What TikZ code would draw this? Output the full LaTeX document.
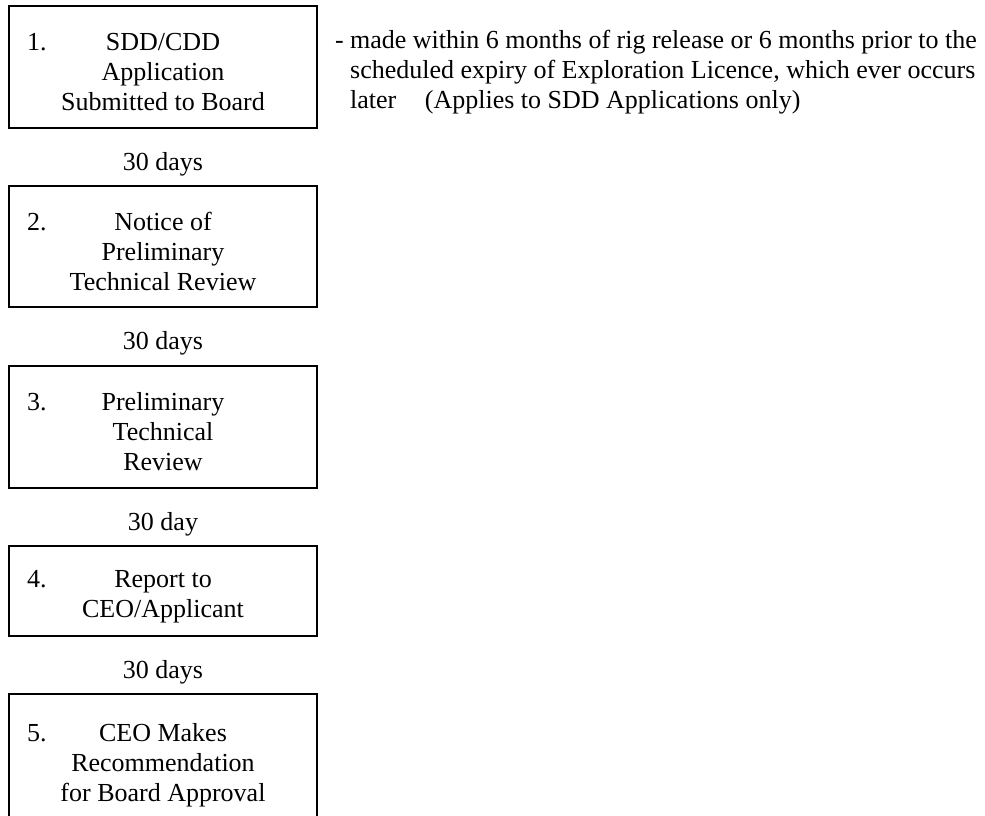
\documentclass[tikz,border=0pt]{standalone}
\usepackage{fontspec}
\setmainfont{Liberation Serif}
\usetikzlibrary{positioning}

\begin{document}
\begin{tikzpicture}[x=0.5pt,y=-0.5pt]
	\tikzstyle{stage} = [draw,line width=1.1pt,minimum width=154pt,text width=136pt,inner xsep=9pt,inner ysep=0pt,outer sep=0pt,align=flush center,font=\fontsize{13}{15}\selectfont]
	\tikzstyle{delay} = [inner sep=0pt,outer sep=0pt,font=\fontsize{13}{15}\selectfont]
	\tikzstyle{remark} = [inner sep=0pt,outer sep=0pt,align=left,font=\fontsize{13}{15}\selectfont]
	\newcommand{\lowerfirst}{\rule{0pt}{14pt}}

	\useasboundingbox (0,0) rectangle (985,815);

	% Stages
	\node [stage, minimum height=61pt] (submit) at (163,67) {\lowerfirst 1.\hfill SDD/CDD\hfill\phantom{1.}\\Application\\Submitted to Board};
	\node [stage, minimum height=60.5pt, below=29pt of submit] (notice) {\lowerfirst 2.\hfill Notice of\hfill\phantom{2.}\\Preliminary\\Technical Review};
	\node [stage, minimum height=61pt, below=29.5pt of notice] (review) {\lowerfirst 3.\hfill Preliminary\hfill\phantom{3.}\\Technical\\Review};
	\node [stage, minimum height=45pt, below=29pt of review] (report) {\lowerfirst 4.\hfill Report to\hfill\phantom{4.}\\CEO/Applicant};
	\node [stage, minimum height=66pt, below=29pt of report] (recommend) {\lowerfirst 5.\hfill CEO Makes\hfill\phantom{5.}\\Recommendation\\for Board Approval};

	% Delays between stages
	\node [delay, below=12pt of submit] (d1) {30 days};
	\node [delay, below=12pt of notice] (d2) {30 days};
	\node [delay, below=12pt of review] (d3) {30 day};
	\node [delay, below=12pt of report] (d4) {30 days};

	% Remark beside the first stage
	\node [remark, right=9pt of submit] (deadline) {\lowerfirst - made within 6 months of rig release or 6 months prior to the\\
		\phantom{- }scheduled expiry of Exploration Licence, which ever occurs\\
		\phantom{- }later\hspace{1.1em}(Applies to SDD Applications only)};
\end{tikzpicture}
\end{document}
